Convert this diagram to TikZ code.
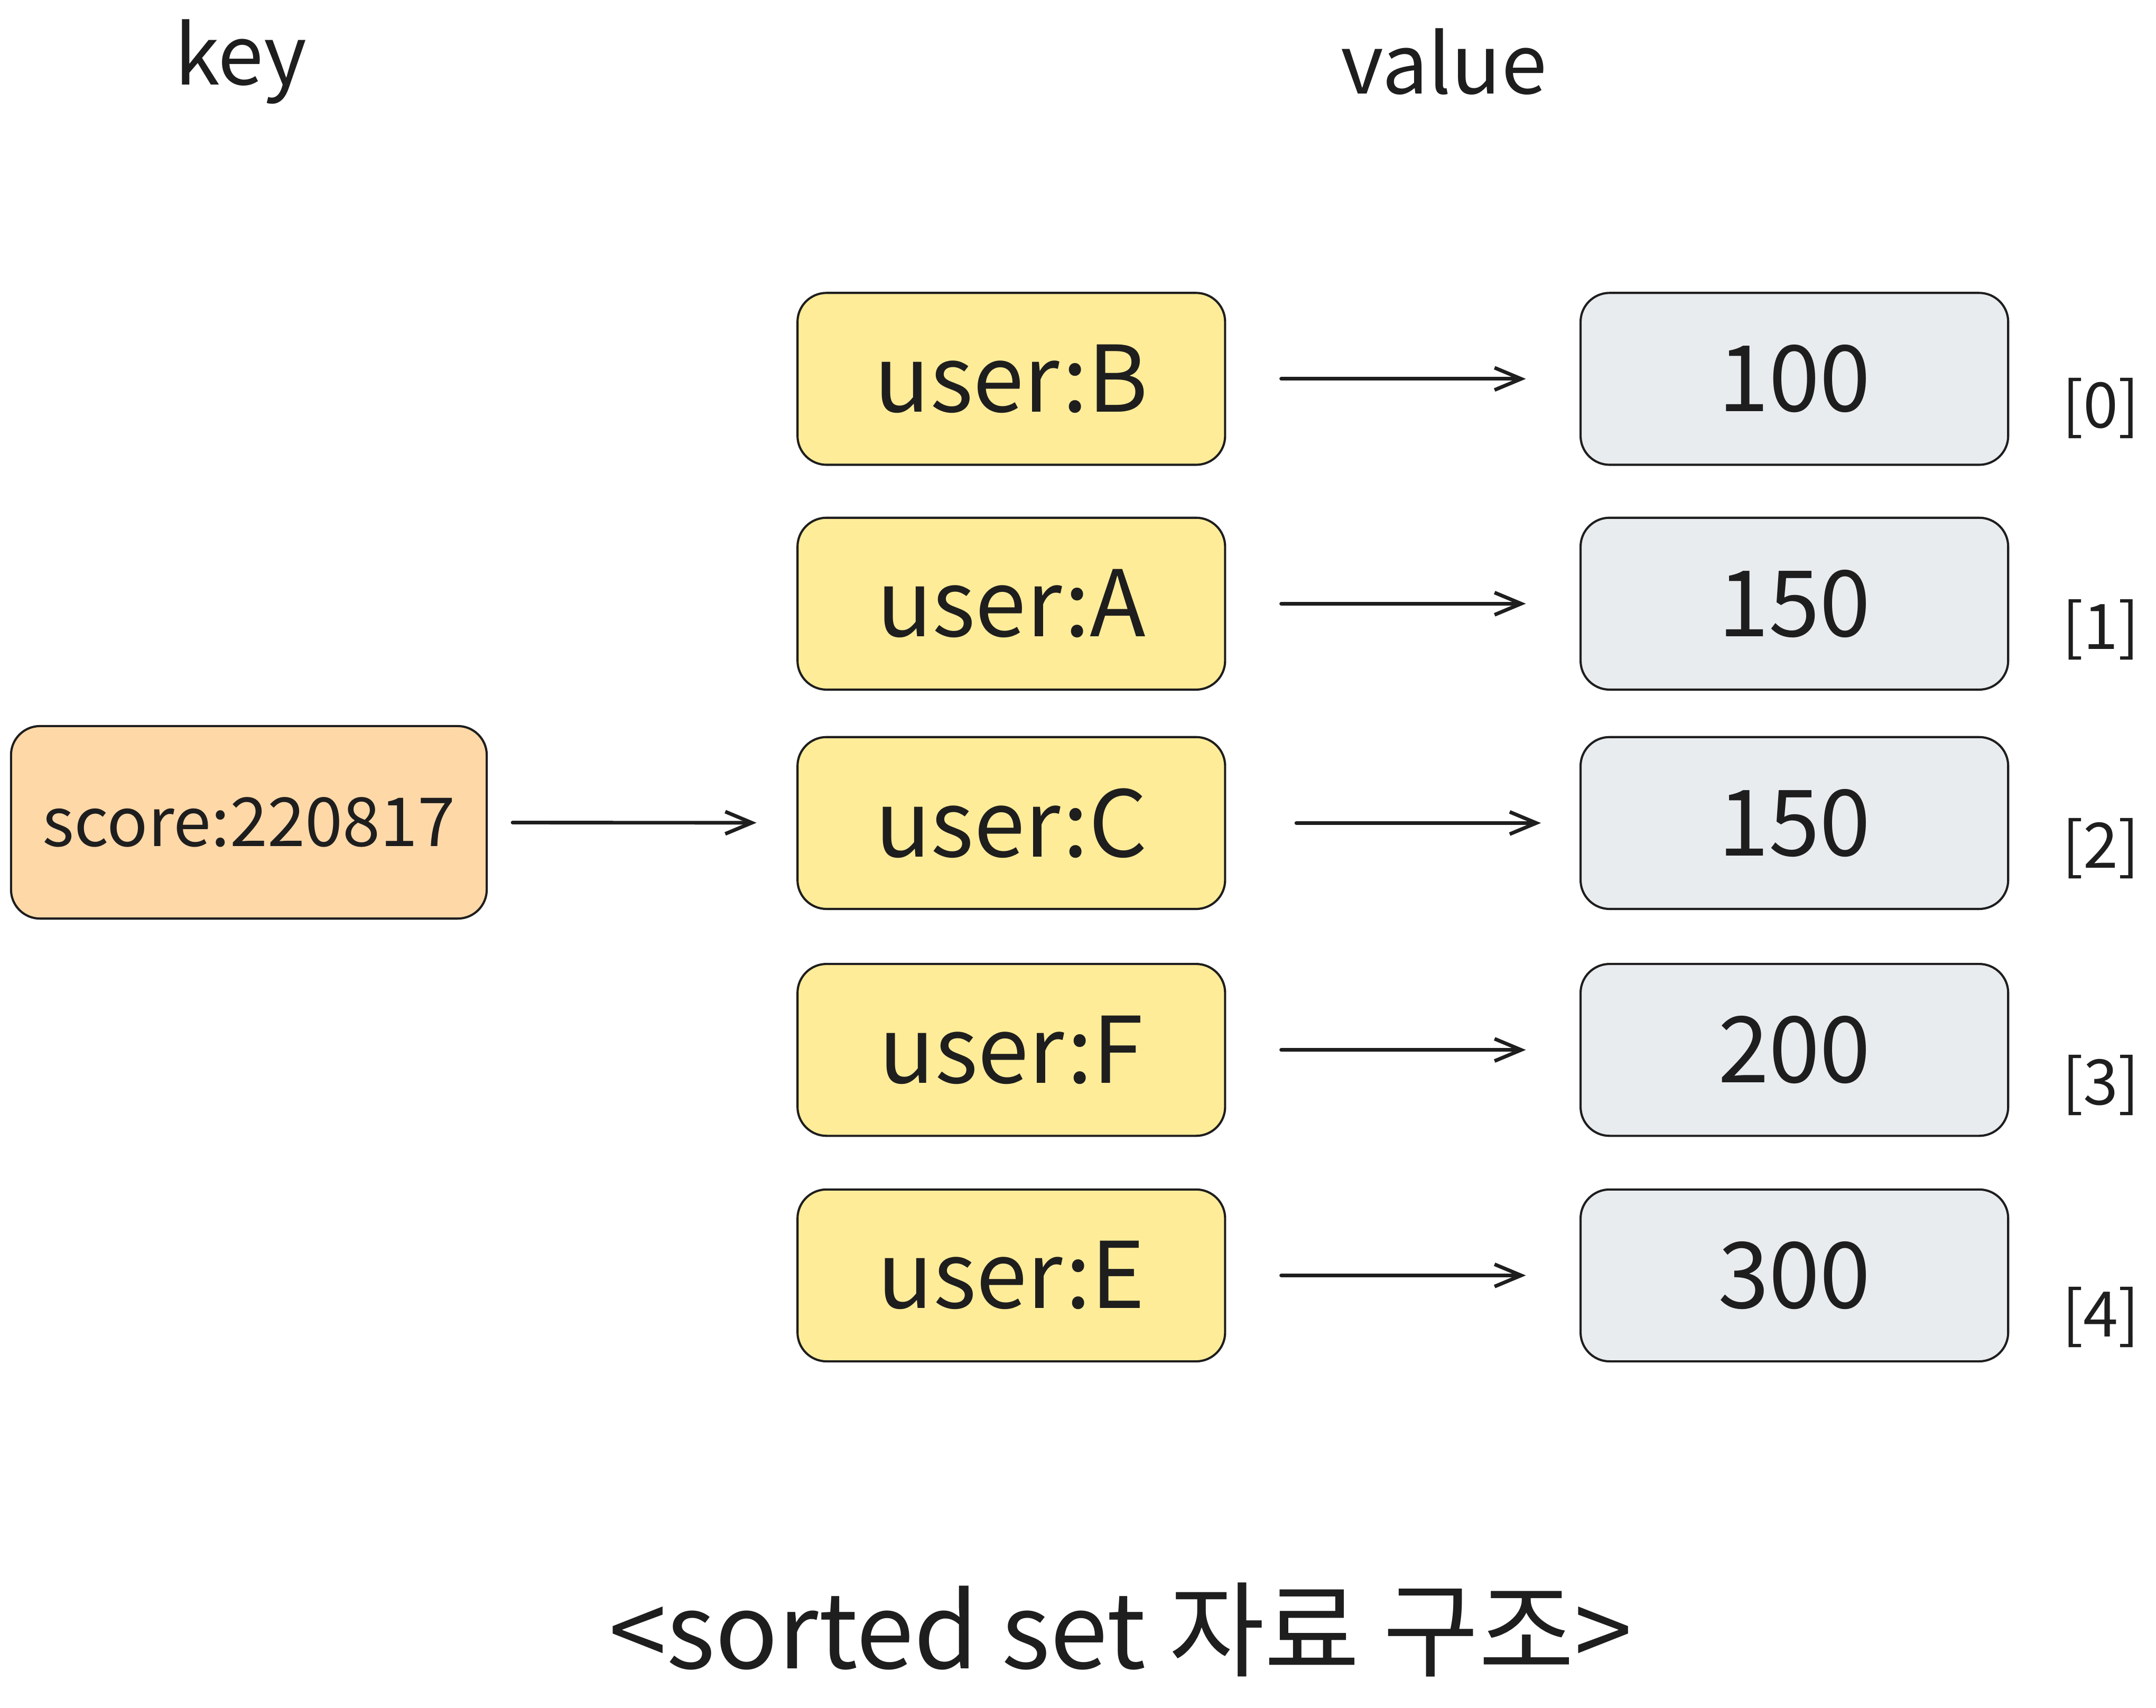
\documentclass[tikz,border=0pt]{standalone}
\usepackage{fontspec}
\setmainfont{Noto Sans CJK KR}
\usepackage{xcolor}
\usetikzlibrary{arrows.meta}

\definecolor{inkcol}{HTML}{1E1E1E}
\definecolor{keyfill}{HTML}{FFD8A8}
\definecolor{memberfill}{HTML}{FFEC99}
\definecolor{scorefill}{HTML}{E9ECEF}

\begin{document}
\begin{tikzpicture}[
  x=0.1mm, y=-0.1mm,
  box/.style={
    rectangle,
    draw=inkcol,
    fill=#1,
    line width=0.45pt,
    minimum width=31.1mm,
    minimum height=12.5mm,
    rounded corners=6pt,
    text=inkcol,
    inner sep=0pt,
    font=\fontsize{19pt}{22pt}\selectfont
  },
  keybox/.style={
    box=keyfill,
    minimum width=34.6mm,
    minimum height=14mm,
    font=\fontsize{14pt}{17pt}\selectfont
  },
  head/.style={
    text=inkcol,
    font=\fontsize{17pt}{20pt}\selectfont
  },
  idx/.style={
    text=inkcol,
    font=\fontsize{13pt}{15pt}\selectfont
  },
  flow/.style={
    -{Straight Barb[length=5.5pt, width=4.6pt]},
    line width=0.75pt,
    line cap=round,
    draw=inkcol
  }
]
\useasboundingbox (0,0) rectangle (1568,1242);

% Headers
\node[head] (keyhead) at (175,45) {key};
\node[head] (valhead) at (1050,45) {value};

% Key
\node[keybox] (key) at (181,598) {score:220817};

% Members, scores and ranks
\foreach \i/\name/\score/\y/\iy/\sl/\sr in {%
    0/B/100/275.5/297/4mm/3.9mm,
    1/A/150/439/458/4mm/3.9mm,
    2/C/150/598.5/617/5.1mm/2.8mm,
    3/F/200/763.5/789/4mm/3.9mm,
    4/E/300/927.5/958/4mm/3.9mm} {
  \node[box=memberfill] (m\i) at (735.5,\y) {user:\name};
  \node[box=scorefill] (s\i) at (1305,\y) {\score};
  \node[idx] (r\i) at (1528,\iy) {[\i]};
  \draw[flow, shorten <=\sl, shorten >=\sr] (m\i) -- (s\i);
}

% Key to sorted set
\draw[flow, shorten <=1.8mm, shorten >=2.9mm] (key) -- (m2);

% Caption
\node[text=inkcol, font=\fontsize{21.5pt}{26pt}\selectfont] (caption) at (815,1185) {<sorted set 자료 구조>};
\end{tikzpicture}
\end{document}
